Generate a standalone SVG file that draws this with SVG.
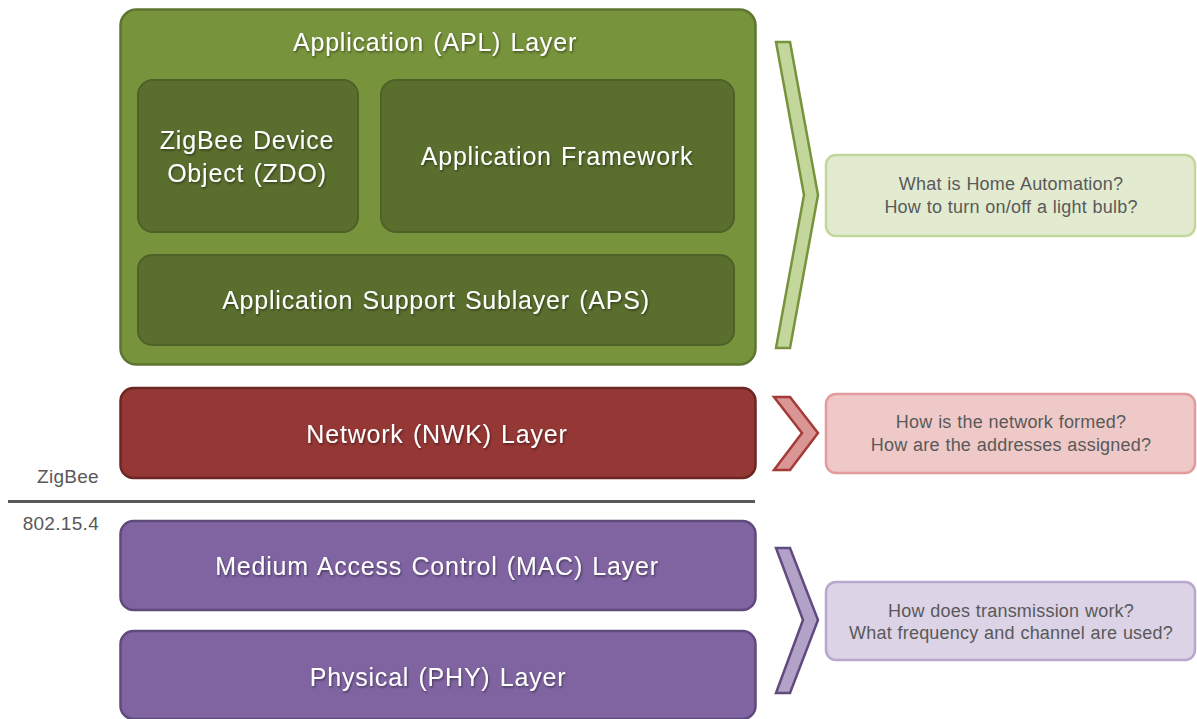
<svg xmlns="http://www.w3.org/2000/svg" width="1197" height="719" viewBox="0 0 1197 719">
<defs>
<filter id="ts" x="-10%" y="-30%" width="120%" height="160%">
<feDropShadow dx="1" dy="1.5" stdDeviation="0.9" flood-color="#000" flood-opacity="0.45"/>
</filter>
</defs>
<style>
.lt{font-family:"Liberation Sans",Arial,sans-serif;font-size:25px;fill:#fff;text-anchor:middle;letter-spacing:0.8px;word-spacing:1.5px;filter:url(#ts)}
.q{font-family:"Liberation Sans",Arial,sans-serif;font-size:18px;fill:#595959;text-anchor:middle;letter-spacing:0.2px;word-spacing:0.5px}
.side{font-family:"Liberation Sans",Arial,sans-serif;font-size:19px;fill:#595959;text-anchor:end;letter-spacing:0.3px}
.apl{fill:#77933C;stroke:#5E7530;stroke-width:2.5}
.sub{fill:#5A6F2E;stroke:#4E6228;stroke-width:2}
.nwk{fill:#953735;stroke:#6C2624;stroke-width:2.5}
.mac{fill:#8064A2;stroke:#5F4A7C;stroke-width:2.5}
.chg{fill:#C3D69B;stroke:#77933C;stroke-width:2.5;stroke-linejoin:miter}
.chr{fill:#D99694;stroke:#A53B39;stroke-width:2.5}
.chp{fill:#B3A2C7;stroke:#614A7E;stroke-width:2.5}
.bg{fill:#E2EBD0;stroke:#C3D69B;stroke-width:2.5}
.br{fill:#EFC9C8;stroke:#E19C9B;stroke-width:2.5}
.bp{fill:#DCD3E6;stroke:#B8A8CB;stroke-width:2.5}
</style>
<rect width="1197" height="719" fill="#fff"/>

<g id="apl">
<rect class="apl" x="120.5" y="9.5" width="635" height="355" rx="16"/>
<text class="lt" x="435" y="51">Application (APL) Layer</text>
</g>
<g id="zdo">
<rect class="sub" x="138" y="80" width="220" height="152" rx="15"/>
<text class="lt" x="247" y="149">ZigBee Device</text>
<text class="lt" x="247" y="182">Object (ZDO)</text>
</g>
<g id="af">
<rect class="sub" x="381" y="80" width="353" height="152" rx="15"/>
<text class="lt" x="557" y="165">Application Framework</text>
</g>
<g id="aps">
<rect class="sub" x="138" y="255" width="596" height="90" rx="14"/>
<text class="lt" x="436" y="309">Application Support Sublayer (APS)</text>
</g>
<g id="nwk">
<rect class="nwk" x="120.5" y="388" width="635" height="90" rx="13"/>
<text class="lt" x="437" y="443">Network (NWK) Layer</text>
</g>
<g id="sep">
<line x1="8" y1="501.5" x2="755" y2="501.5" stroke="#595959" stroke-width="3"/>
<text class="side" x="99" y="483">ZigBee</text>
<text class="side" x="99" y="530">802.15.4</text>
</g>
<g id="mac">
<rect class="mac" x="120.5" y="521" width="635" height="89" rx="13"/>
<text class="lt" x="437" y="575">Medium Access Control (MAC) Layer</text>
</g>
<g id="phy">
<rect class="mac" x="120.5" y="631" width="635" height="88" rx="13"/>
<text class="lt" x="438" y="686">Physical (PHY) Layer</text>
</g>

<g id="connectors">
<polygon class="chg" points="776,42 790,42 818,195 790,348 776,348 804,195"/>
<polygon class="chr" points="774,397 790,397 818,433 790,470 774,470 802,433"/>
<polygon class="chp" points="776,548 790,548 818,620 790,693 776,693 803,620"/>
</g>

<g id="q-apl">
<rect class="bg" x="826" y="155" width="369" height="81" rx="10"/>
<text class="q" x="1011" y="190">What is Home Automation?</text>
<text class="q" x="1011" y="213">How to turn on/off a light bulb?</text>
</g>
<g id="q-nwk">
<rect class="br" x="826" y="394" width="369" height="79" rx="10"/>
<text class="q" x="1011" y="428">How is the network formed?</text>
<text class="q" x="1011" y="451">How are the addresses assigned?</text>
</g>
<g id="q-mac">
<rect class="bp" x="826" y="582" width="369" height="78" rx="10"/>
<text class="q" x="1011" y="617">How does transmission work?</text>
<text class="q" x="1011" y="639">What frequency and channel are used?</text>
</g>
</svg>
